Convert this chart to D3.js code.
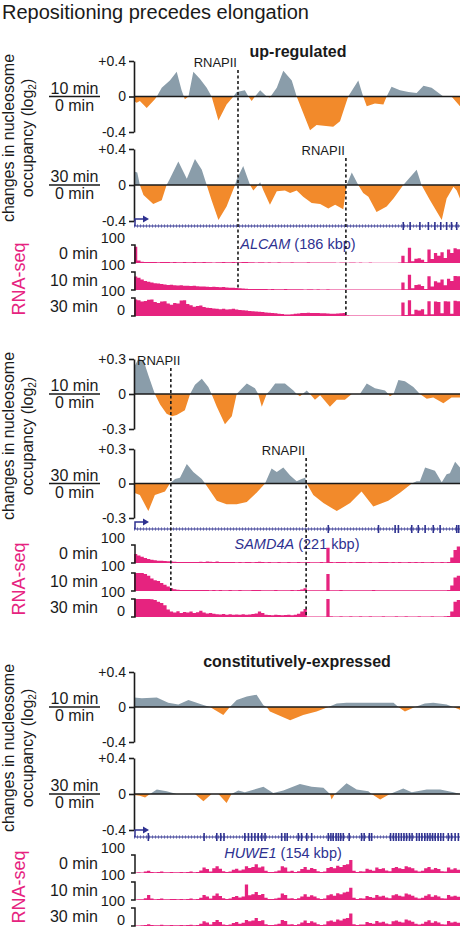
<!DOCTYPE html>
<html><head><meta charset="utf-8">
<script src="https://cdn.jsdelivr.net/npm/d3@7"></script>
<style>body{margin:0;background:#fff}svg{display:block}</style>
</head><body><svg id="c" width="463" height="928"></svg>
<script>
// ---------------- DATA ----------------
const title = "Repositioning precedes elongation";
const headings = ["up-regulated", null, "constitutively-expressed"];
const genes = ["ALCAM", "SAMD4A", "HUWE1"];
const geneSizes = ["186 kbp", "221 kbp", "154 kbp"];
const limits = [0.4, 0.3, 0.4];
const timeRatios = [["10 min", "0 min"], ["30 min", "0 min"]];
const rnaTimes = ["0 min", "10 min", "30 min"];

// nucleosome occupancy change (log2) : [position % of locus, value]
const ALCAM_nuc10 = [[0,-0.05],[0.8,-0.07],[1.8,-0.05],[3.9,-0.13],[6.4,-0.03],[7.0,0],[8.5,0.1],[11.0,0.18],[13.1,0.28],[14.6,0.07],[15.6,-0.03],[16.7,0],[18.2,0.28],[20.2,0.2],[22.3,0.1],[23.8,0],[25.9,-0.27],[28.4,-0.09],[30.5,0],[31.5,0.05],[34.0,0.07],[35.1,0],[36.1,-0.05],[37.1,0],[38.7,0.07],[40.7,0],[41.7,-0.01],[43.8,0.1],[45.8,0.29],[48.4,0.18],[49.9,0],[54.0,-0.38],[56.0,-0.32],[61.1,-0.34],[63.2,-0.28],[65.7,0],[68.8,0.18],[70.3,0],[71.4,-0.11],[73.9,-0.08],[76.5,-0.09],[77.5,0],[79.0,0.11],[81.6,0.07],[84.2,0.05],[86.7,0.04],[88.8,0.12],[91.3,0.1],[94.9,0],[97.4,0],[100,-0.11]];
const ALCAM_nuc30 = [[0,0.15],[1.0,0.14],[1.8,0],[2.9,-0.11],[5.9,-0.21],[8.5,-0.17],[10.0,0],[11.0,0.07],[13.6,0.26],[16.2,0.07],[18.7,0.29],[20.8,0.17],[22.3,0],[23.8,-0.17],[25.9,-0.39],[28.4,-0.24],[31.0,0],[31.5,0.06],[33.5,0.21],[35.6,0],[36.6,-0.06],[37.6,-0.02],[38.7,0.03],[39.7,-0.06],[41.7,-0.22],[43.8,-0.07],[46.3,-0.06],[47.9,-0.09],[49.9,-0.06],[51.9,-0.13],[54.5,-0.2],[57.1,-0.21],[59.6,-0.26],[61.7,-0.22],[64.2,-0.27],[65.2,0],[66.8,0.14],[68.8,0],[70.3,-0.09],[71.9,-0.13],[74.4,-0.3],[77.5,-0.24],[79.6,-0.15],[82.6,0],[86.7,0.17],[88.2,0],[90.8,-0.17],[94.4,-0.39],[95.9,-0.15],[98.0,-0.02],[99.0,-0.06],[100,-0.15]];
const SAMD4A_nuc10 = [[0,0.23],[1.3,0.3],[2.9,0.29],[4.4,0.16],[6.4,0],[8.0,-0.09],[10.0,-0.17],[11.6,-0.19],[13.1,-0.18],[15.6,-0.14],[17.2,0],[18.7,0.08],[20.8,0.13],[22.8,0.06],[23.8,0],[25.4,-0.11],[27.9,-0.26],[30.0,-0.19],[31.5,0],[32.5,0.03],[34.6,0.09],[37.1,0.05],[38.1,0],[39.2,-0.11],[40.7,0],[41.7,0.03],[43.3,0.09],[46.3,0.09],[48.9,0.03],[49.9,0],[50.9,-0.02],[53.0,0.03],[54.0,0],[55.5,-0.05],[57.1,-0.01],[60.1,-0.11],[62.2,-0.05],[64.7,-0.05],[66.8,0],[69.3,0],[71.4,0.09],[73.9,0.05],[77.0,0.03],[78.0,0],[78.5,-0.02],[79.6,0],[81.1,0.12],[83.1,0.11],[85.7,0.06],[87.7,0],[89.8,-0.04],[91.8,-0.03],[94.9,-0.08],[97.4,-0.03],[100,-0.03]];
const SAMD4A_nuc30 = [[0,-0.08],[1.8,-0.1],[4.4,-0.24],[6.4,-0.1],[9.5,-0.07],[11.0,0],[12.6,0.04],[14.1,0.05],[16.2,0.17],[18.2,0.1],[20.8,0.04],[21.8,0],[25.4,-0.15],[28.4,-0.18],[31.5,-0.18],[34.6,-0.16],[37.6,-0.08],[40.2,0],[42.2,0.13],[43.8,0.1],[45.8,0.14],[47.9,0.07],[49.9,0.02],[51.4,0.04],[52.5,0.05],[53.0,0],[55.0,-0.1],[58.1,-0.17],[62.2,-0.24],[66.3,-0.17],[69.8,-0.07],[73.4,-0.2],[78.0,-0.15],[81.6,-0.08],[85.2,0],[86.7,0.02],[87.7,0.02],[89.3,0.14],[92.3,0.11],[94.4,0.01],[95.9,0.08],[96.9,0.09],[98.5,0.19],[100,0.14]];
const HUWE1_nuc10 = [[0,0.11],[2.4,0.1],[7.0,0.11],[10.5,0.05],[13.6,0.03],[16.7,0.08],[20.8,0.03],[23.3,0],[27.4,-0.09],[29.4,0],[31.5,0.08],[34.6,0.12],[37.6,0.14],[39.7,0.02],[40.7,0],[41.7,-0.05],[47.9,-0.15],[51.9,-0.09],[56.0,-0.05],[59.6,0],[62.2,0.04],[65.2,0.05],[71.4,0.05],[75.5,0.05],[79.6,0.05],[81.1,0],[83.1,-0.05],[86.2,0],[89.2,0.04],[91.8,0.05],[95.9,0.03],[97.9,0],[100,-0.03]];
const HUWE1_nuc30 = [[0,-0.01],[1.8,-0.02],[3.4,-0.04],[4.9,0],[7.0,0.05],[10.0,0.03],[13.1,0],[18.7,0],[21.3,-0.08],[23.8,0],[25.9,0],[28.4,-0.1],[29.9,0],[32.0,0.04],[34.0,0.02],[39.7,0.08],[42.7,0.01],[45.8,0.04],[50.9,0.11],[54.5,0.08],[58.1,0.07],[60.1,0],[60.6,-0.06],[61.6,0],[65.2,0.12],[68.3,0.05],[71.9,0.03],[72.9,0],[75.5,-0.06],[78.5,0],[82.6,0.06],[85.2,0.02],[89.8,0.05],[93.9,0.05],[98.0,0.02],[100,0]];

// RNA-seq coverage, 100 bins along the locus (scale 0-100)
const ALCAM_rna0 = [90,14,7,6,5,6,5,4,5,6, 5,4,5,4,4,5,4,4,5,4, 4,5,4,4,3,4,4,5,4,4, 5,4,4,5,5,4,4,3,4,4, 3,4,3,3,4,3,3,3,4,3, 3,3,3,4,3,3,3,3,3,3, 3,3,2,3,3,2,3,3,2,3, 2,2,3,2,2,2,2,2,2,2, 2,3,40,4,85,10,24,26,18,6, 75,22,55,40,60,28,75,55,82,76];
const ALCAM_rna10 = [75,68,58,50,46,42,38,36,33,30, 28,29,26,25,26,24,23,22,23,21, 19,20,18,17,18,16,15,16,14,13, 12,11,10,8,7,6,6,5,5,5, 5,4,5,4,4,4,5,4,4,4, 4,4,3,4,4,3,4,3,3,4, 3,3,3,3,3,3,3,3,3,3, 3,3,3,3,3,3,3,3,3,3, 3,3,42,4,85,10,28,30,22,6, 76,20,48,42,58,26,62,50,78,76];
const ALCAM_rna30 = [92,88,80,84,90,92,78,72,80,82, 70,62,72,70,86,88,66,60,52,56, 58,50,46,44,42,40,38,40,36,38, 40,36,33,32,30,28,27,25,23,22, 19,18,17,15,13,11,9,9,10,12, 14,16,17,18,17,16,16,15,15,14, 13,13,14,15,16,4,3,3,3,3, 3,3,3,3,3,3,3,3,3,3, 3,3,75,5,88,10,35,30,38,8, 82,10,80,78,15,82,80,12,85,82];
const SAMD4A_rna0 = [50,42,35,28,22,18,15,13,12,11, 10,9,7,6,6,5,6,5,5,6, 7,6,8,7,6,8,5,5,6,5, 5,4,5,4,5,5,4,6,7,5, 4,5,4,4,5,4,4,5,4,4, 5,4,4,5,4,4,4,5,4,85, 5,4,5,6,5,4,5,4,5,6, 5,4,5,4,4,5,6,5,4,5, 4,5,4,4,5,4,5,4,5,4, 4,5,4,4,5,4,6,30,72,92];
const SAMD4A_rna10 = [100,100,100,95,85,70,60,55,45,35, 25,15,10,7,6,6,5,5,6,5, 5,6,5,4,5,4,5,4,4,5, 4,4,5,4,4,4,5,6,5,4, 4,4,4,5,4,4,4,4,5,4, 5,8,15,4,4,4,4,4,4,95, 4,4,4,5,4,4,4,4,4,4, 4,4,4,5,4,4,4,4,4,4, 4,4,4,4,4,4,4,4,4,4, 4,4,4,4,4,4,5,30,75,85];
const SAMD4A_rna30 = [100,100,100,100,100,98,95,85,78,65, 42,30,25,32,22,28,25,30,22,26, 35,25,20,22,18,15,14,16,13,15, 12,14,13,15,12,14,16,20,30,22, 12,11,10,12,11,10,11,12,10,12, 18,30,45,3,3,3,3,3,3,100, 4,3,3,4,3,3,4,3,3,4, 3,3,4,3,3,3,4,3,3,3, 4,3,3,4,3,3,3,4,3,3, 3,4,3,3,3,4,5,30,85,95];
const HUWE1_rna0 = [3,4,3,8,12,5,4,5,8,4, 4,6,4,4,6,4,5,8,4,6, 14,30,22,8,26,38,24,10,6,9, 18,24,14,20,38,28,34,48,30,36, 12,6,5,8,14,38,30,8,12,6, 10,22,34,18,28,22,10,6,8,28, 34,26,40,34,44,48,72,12,6,10, 8,24,18,12,30,22,26,14,10,28, 34,26,22,38,32,26,14,8,12,26, 34,20,28,22,10,8,30,20,26,18];
const HUWE1_rna10 = [3,4,4,10,28,8,4,5,9,4, 4,6,5,4,6,4,5,8,4,6, 12,28,20,8,24,36,22,10,6,8, 16,22,14,20,86,26,32,44,28,34, 12,6,5,8,12,36,28,8,10,6, 10,20,32,18,26,20,10,6,8,26, 32,24,38,32,42,46,68,12,6,10, 8,22,16,12,28,20,24,14,10,26, 32,24,20,36,30,24,14,8,12,24, 32,18,26,20,10,8,28,20,24,18];
const HUWE1_rna30 = [3,3,4,6,10,5,4,4,7,4, 4,5,4,4,5,4,5,7,4,5, 12,26,20,8,22,34,22,8,6,8, 16,22,12,18,34,26,30,44,28,32, 10,6,5,8,12,34,28,8,10,6, 10,20,30,16,26,20,10,6,8,26, 30,24,36,30,40,44,70,10,6,8, 8,22,16,12,28,20,24,14,10,26, 30,24,20,36,30,24,12,8,12,24, 32,18,26,20,10,8,28,20,24,18];

// exon positions (% of locus)
const ALCAM_exons = [82.6,84.7,87.7,90.3,92.3,94.1,95.9,97.4,99.0];
const SAMD4A_exons = [59.6,75.0,80.1,81.1,85.2,87.2,89.3,91.8,93.9,99.0,99.6];
const HUWE1_exons = [4.4,21.5,25.4,26.6,27.6,34.0,35.1,36.1,37.1,38.1,39.2,40.2,45.3,46.3,47.0,50.4,51.4,53.0,54.5,59.6,60.4,61.1,62.0,62.7,63.4,64.2,66.0,69.8,70.6,72.2,72.9,78.7,79.6,80.4,81.2,82.0,82.8,83.6,84.5,85.3,86.7,87.5,88.3,89.2,90.0,90.8,91.6,92.4,93.3,94.1,94.9,96.4,97.4,98.5,99.5];

// RNAPII front positions (% of locus) and time point
const ALCAM_rnapii = [[31.9, "10 min"], [65.0, "30 min"]];
const SAMD4A_rnapii = [[11.3, "10 min"], [52.8, "30 min"]];
const HUWE1_rnapii = [];

// ---------------- DRAWING ----------------
const FONT = "'Liberation Sans', Arial, Helvetica, sans-serif";
const GREY = "#8a9daa", ORANGE = "#f28a2b", PINK = "#e6237f", NAVY = "#2e3190", INK = "#1a1a1a";
const svg = d3.select("#c").style("font-family", FONT);
const defs = svg.append("defs");
const xs = d3.scaleLinear().domain([0, 100]).range([134, 460]);

const panels = [
  {nuc:[ALCAM_nuc10, ALCAM_nuc30], rna:[ALCAM_rna0, ALCAM_rna10, ALCAM_rna30], exons:ALCAM_exons, rnapii:ALCAM_rnapii},
  {nuc:[SAMD4A_nuc10, SAMD4A_nuc30], rna:[SAMD4A_rna0, SAMD4A_rna10, SAMD4A_rna30], exons:SAMD4A_exons, rnapii:SAMD4A_rnapii},
  {nuc:[HUWE1_nuc10, HUWE1_nuc30], rna:[HUWE1_rna0, HUWE1_rna10, HUWE1_rna30], exons:HUWE1_exons, rnapii:HUWE1_rnapii}
];
const layout = [
  {nuc:[[61,132],[149,221]], geneY:226, labelY:249, labelX:298, rnaTop:[245,272,298], ylabelY:138, rnaLabelY:279, headingY:57, headingX:298},
  {nuc:[[359,429],[449,518]], geneY:529, labelY:549, labelX:297, rnaTop:[545,573,599], ylabelY:436, rnaLabelY:579},
  {nuc:[[672,742],[758,830]], geneY:837, labelY:858, labelX:283, rnaTop:[855,882,908], ylabelY:748, rnaLabelY:887, headingY:667, headingX:297}
];
const RNA_H = 18;

svg.append("text").attr("x", 2).attr("y", 19).attr("font-size", 20).attr("fill", INK).text(title);

const fmt = v => v > 0 ? "+" + v : (v < 0 ? "-" + (-v) : "0");

panels.forEach((p, pi) => {
  const L = layout[pi];
  const g = svg.append("g");
  const lim = limits[pi];

  // y label
  const yl = g.append("text").attr("transform", `translate(0,${L.ylabelY}) rotate(-90)`)
    .attr("text-anchor", "middle").attr("font-size", 16).attr("fill", INK);
  yl.append("tspan").attr("x", 0).attr("y", 14).text("changes in nucleosome");
  yl.append("tspan").attr("x", 0).attr("y", 33).text("occupancy (log");
  yl.append("tspan").attr("font-size", 10).attr("dy", 3).text("2");
  yl.append("tspan").attr("dy", -3).text(")");

  // nucleosome tracks
  p.nuc.forEach((data, ti) => {
    const [top, bottom] = L.nuc[ti];
    const y = d3.scaleLinear().domain([-lim, lim]).range([bottom, top]);
    const z = y(0);
    const id = `c${pi}_${ti}`;
    defs.append("clipPath").attr("id", id + "p").append("rect")
      .attr("x", xs(0)).attr("y", top - 10).attr("width", xs(100) - xs(0)).attr("height", z - top + 10);
    defs.append("clipPath").attr("id", id + "n").append("rect")
      .attr("x", xs(0)).attr("y", z).attr("width", xs(100) - xs(0)).attr("height", bottom - z + 10);
    const area = d3.area().x(d => xs(d[0])).y0(z).y1(d => y(d[1]));
    g.append("path").datum(data).attr("d", area).attr("fill", GREY).attr("clip-path", `url(#${id}p)`);
    g.append("path").datum(data).attr("d", area).attr("fill", ORANGE).attr("clip-path", `url(#${id}n)`);
    g.append("line").attr("x1", xs(0)).attr("x2", xs(100)).attr("y1", z).attr("y2", z)
      .attr("stroke", INK).attr("stroke-width", 1.6);
    const ax = g.append("g").attr("transform", `translate(${xs(0)},0)`)
      .call(d3.axisLeft(y).tickValues([-lim, 0, lim]).tickSize(5).tickSizeOuter(0).tickFormat(fmt));
    ax.selectAll("path,line").attr("stroke", INK).attr("stroke-width", 1.6);
    ax.selectAll("text").attr("font-size", 14).attr("font-family", FONT).attr("fill", INK);
    // ratio label
    const [num, den] = timeRatios[ti];
    g.append("text").attr("x", 74.5).attr("y", z - 3).attr("text-anchor", "middle").attr("font-size", 16).attr("fill", INK).text(num);
    g.append("line").attr("x1", 49).attr("x2", 100).attr("y1", z).attr("y2", z).attr("stroke", INK).attr("stroke-width", 1.4);
    g.append("text").attr("x", 74.5).attr("y", z + 14).attr("text-anchor", "middle").attr("font-size", 16).attr("fill", INK).text(den);
  });

  if (headings[pi]) {
    g.append("text").attr("x", L.headingX).attr("y", L.headingY).attr("text-anchor", "middle")
      .attr("font-size", 16).attr("font-weight", "bold").attr("fill", INK).text(headings[pi]);
  }

  // gene model
  const gy = L.geneY;
  g.append("line").attr("x1", xs(0)).attr("x2", xs(100)).attr("y1", gy).attr("y2", gy)
    .attr("stroke", NAVY).attr("stroke-width", 3.5).attr("stroke-dasharray", "1,2").attr("opacity", 0.55);
  g.append("line").attr("x1", xs(0)).attr("x2", xs(100)).attr("y1", gy).attr("y2", gy)
    .attr("stroke", NAVY).attr("stroke-width", 1.2);
  g.selectAll(null).data(p.exons).join("line")
    .attr("x1", d => xs(d)).attr("x2", d => xs(d)).attr("y1", gy - 4).attr("y2", gy + 4)
    .attr("stroke", NAVY).attr("stroke-width", 1.6);
  g.append("path").attr("d", `M${xs(0) + 1},${gy} V${gy - 7} H${xs(0) + 10}`)
    .attr("fill", "none").attr("stroke", NAVY).attr("stroke-width", 1.5);
  g.append("path").attr("d", `M${xs(0) + 9},${gy - 10.5} L${xs(0) + 15},${gy - 7} L${xs(0) + 9},${gy - 3.5} Z`).attr("fill", NAVY);
  const gl = g.append("text").attr("x", L.labelX).attr("y", L.labelY).attr("text-anchor", "middle")
    .attr("font-size", 14.5).attr("fill", NAVY);
  gl.append("tspan").attr("font-style", "italic").text(genes[pi]);
  gl.append("tspan").text(" (" + geneSizes[pi] + ")");

  // RNA-seq tracks
  g.append("text").attr("transform", `translate(25,${L.rnaLabelY}) rotate(-90)`)
    .attr("text-anchor", "middle").attr("font-size", 18).attr("fill", PINK).text("RNA-seq");
  p.rna.forEach((vals, ri) => {
    const top = L.rnaTop[ri], bot = top + RNA_H;
    const y = d3.scaleLinear().domain([0, 100]).range([bot, top]).clamp(true);
    const pts = vals.map((v, i) => [i, v]);
    pts.push([100, vals[vals.length - 1]]);
    g.append("path").datum(pts)
      .attr("d", d3.area().curve(d3.curveStepAfter).x(d => xs(d[0])).y0(bot).y1(d => y(d[1])))
      .attr("fill", PINK);
    g.append("path").attr("d", `M${xs(0) - 3},${top} H${xs(0) + 1} V${bot} H${xs(0) - 3}`)
      .attr("fill", "none").attr("stroke", INK).attr("stroke-width", 1.5);
    g.append("text").attr("x", 125).attr("y", top - 2).attr("text-anchor", "end").attr("font-size", 14.5).attr("fill", INK).text("100");
    if (ri === p.rna.length - 1) {
      g.append("text").attr("x", 125).attr("y", bot - 1).attr("text-anchor", "end").attr("font-size", 14.5).attr("fill", INK).text("0");
    }
    g.append("text").attr("x", 98).attr("y", top + RNA_H / 2 + 5).attr("text-anchor", "end")
      .attr("font-size", 16).attr("fill", INK).text(rnaTimes[ri]);
  });

  // RNAPII annotations
  p.rnapii.forEach(([pos, time]) => {
    const ti = timeRatios.findIndex(t => t[0] === time);
    const ri = rnaTimes.indexOf(time);
    const x = xs(pos);
    const base = L.nuc[ti][0] + 6;
    const t = g.append("text").attr("y", base).attr("font-size", 13).attr("fill", INK).text("RNAPII");
    const w = t.node().getComputedTextLength();
    let tx = x - 1 - w;
    if (tx < xs(0) + 3) tx = xs(0) + 3;
    t.attr("x", tx);
    g.append("line").attr("x1", x).attr("x2", x).attr("y1", base + 3).attr("y2", L.rnaTop[ri] + RNA_H)
      .attr("stroke", INK).attr("stroke-width", 1.6).attr("stroke-dasharray", "3,2.5");
  });
});
</script></body></html>
